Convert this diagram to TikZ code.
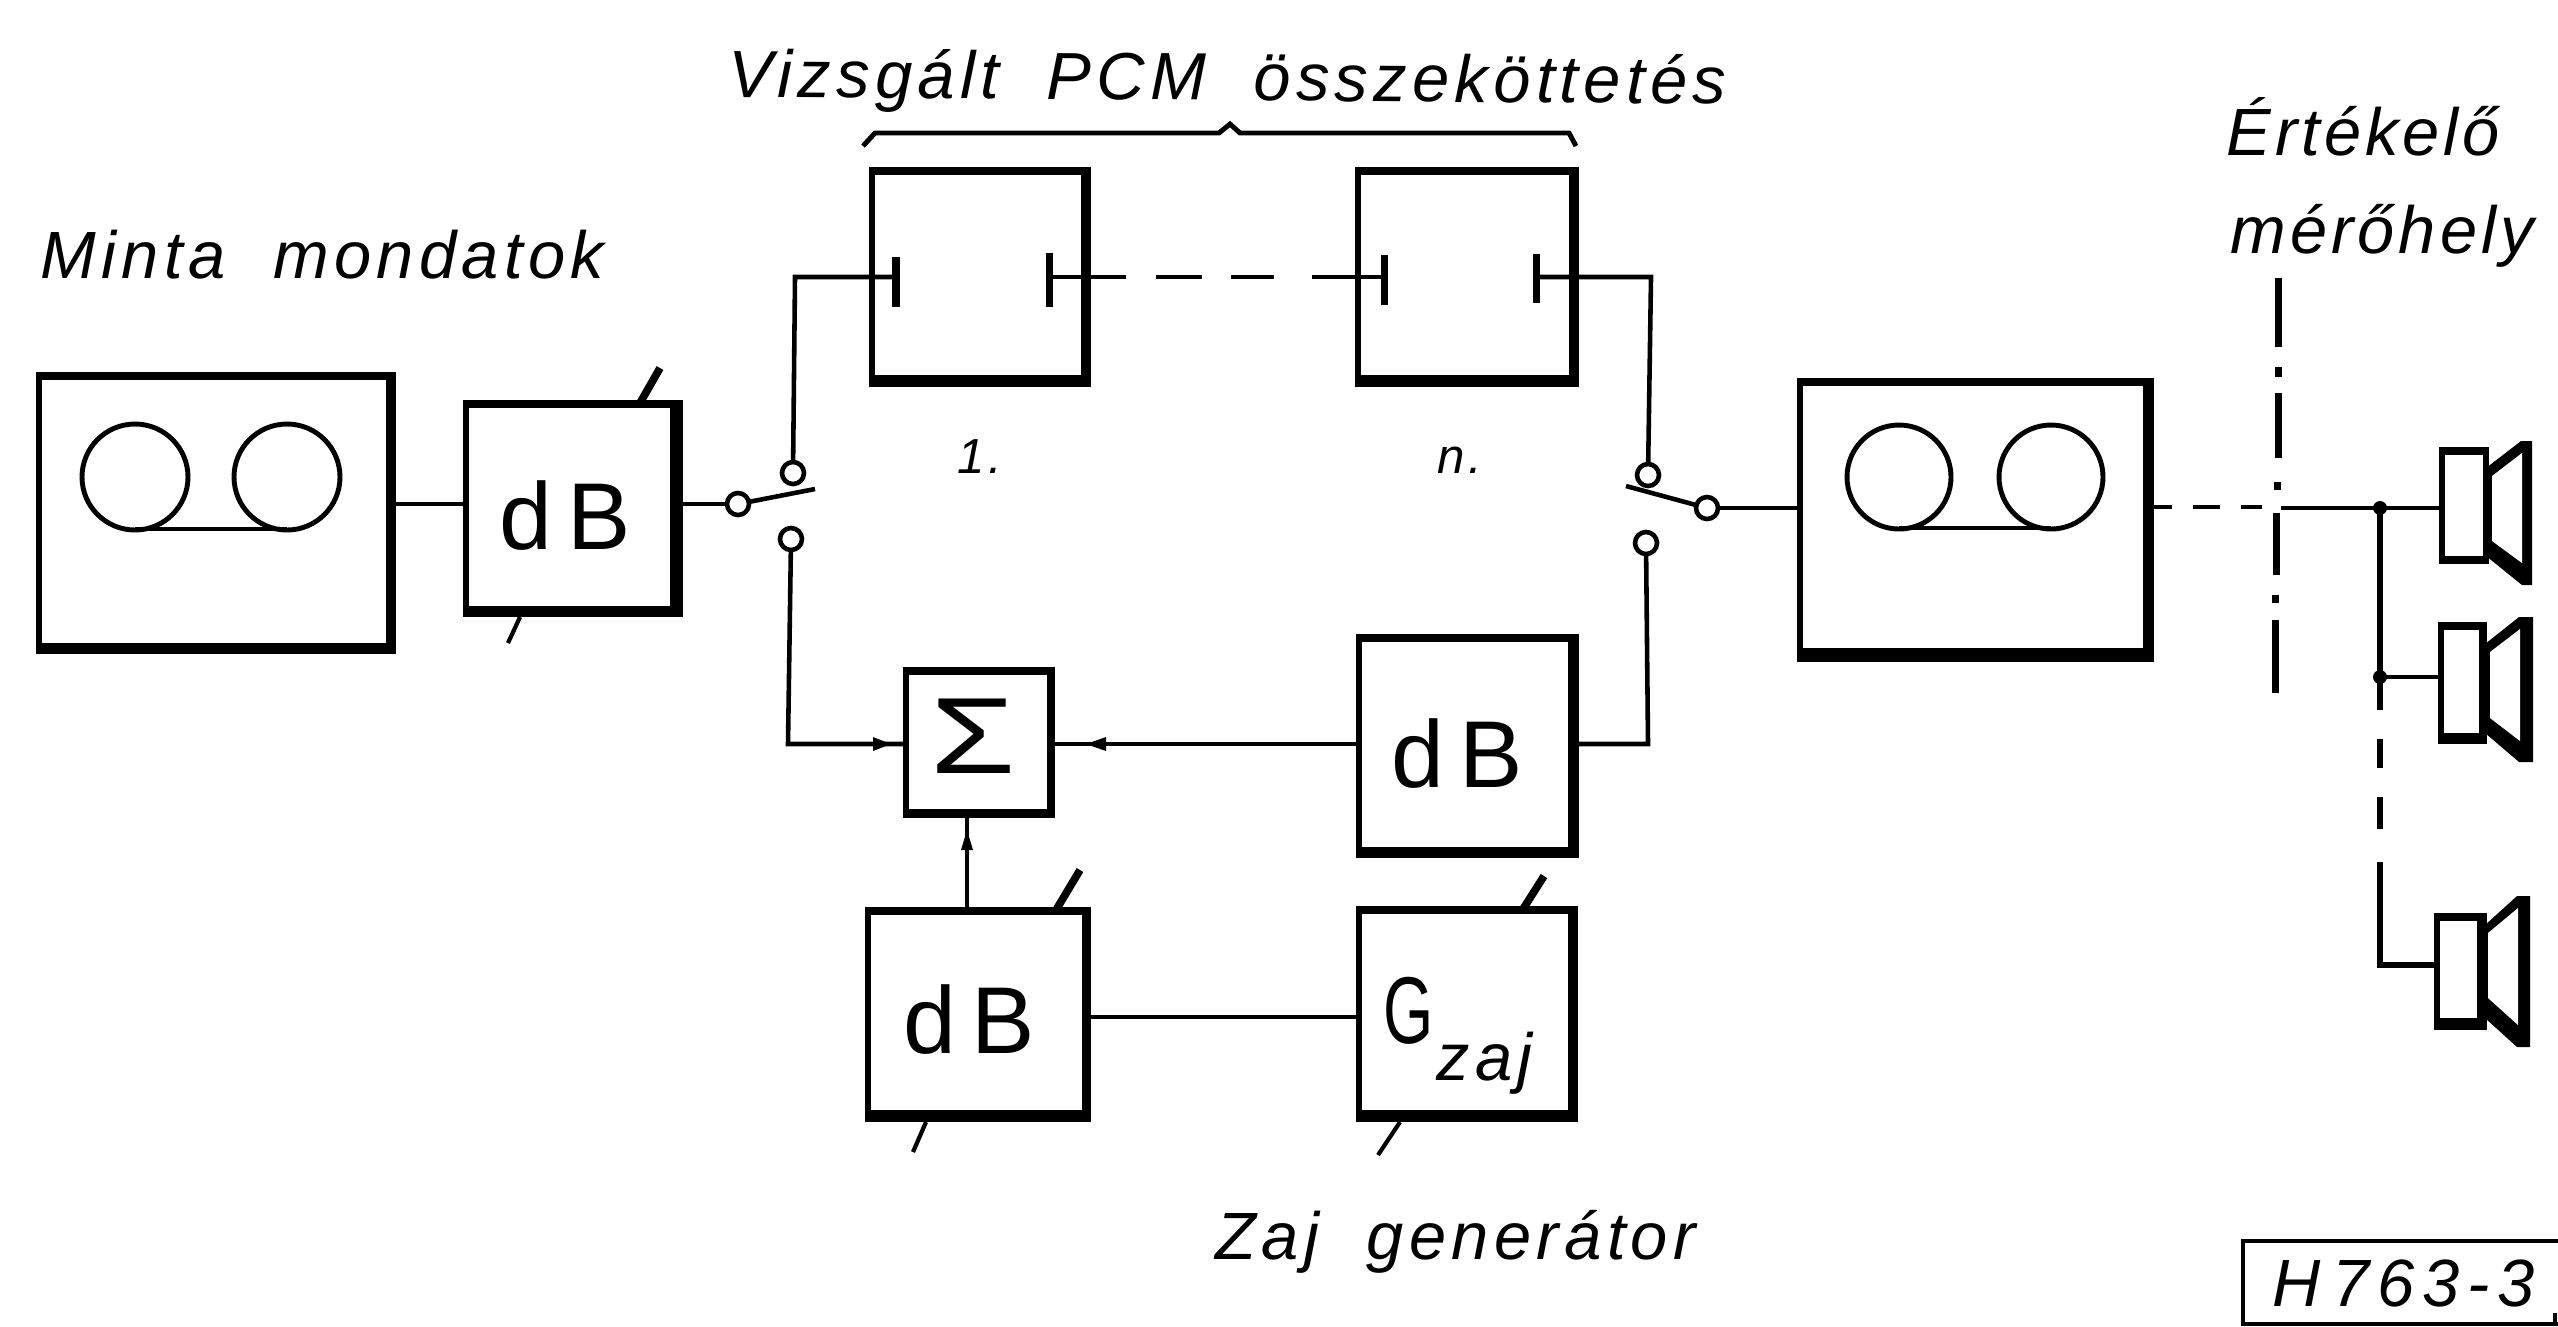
\documentclass[tikz,border=0pt]{standalone}
\usepackage{fontspec}
\setmainfont{Liberation Sans}
\newfontfamily\lab[ItalicFont={Liberation Sans Italic},LetterSpace=8]{Liberation Sans}
\newfontfamily\labb[ItalicFont={Liberation Sans Italic},LetterSpace=6]{Liberation Sans}
\newfontfamily\labc[ItalicFont={Liberation Sans Italic},LetterSpace=12]{Liberation Sans}
\usetikzlibrary{calc}
\newcommand{\shadowbox}[6]{% name, left, top, innerright, innerbottom, (outer r/b)
  \fill[black] (#2-3,-#3+3) rectangle (#6);
  \fill[white] (#2+3,-#3-5) rectangle (#4,-#5);
  \coordinate (#1) at (#2,-#3);
}
\tikzset{
  wire/.style={line width=1.3pt,line cap=butt},
  tick/.style={line width=1.2pt},
  tickup/.style={line width=2.2pt},
  contact/.style={circle,draw,line width=1.3pt,fill=white,inner sep=0pt,minimum size=22*0.01cm},
  reel/.style={line width=1.4pt},
  blockname/.style={inner sep=0pt,font=\fontsize{27}{27}\selectfont},
  italiclabel/.style={inner sep=0pt,anchor=base west,font=\lab\itshape\fontsize{19}{19}\selectfont},
  junction/.style={circle,fill=black,inner sep=0pt,minimum size=14*0.01cm},
}
\begin{document}
\begin{tikzpicture}[x=0.01cm,y=0.01cm]
\useasboundingbox (0,0) rectangle (2558,-1326);
\fill[white] (0,0) rectangle (2558,-1326);
% boxes
\shadowbox{tapeA}{39}{375}{386}{643}{396,-654}
\shadowbox{dbA}{466}{403}{670}{606}{683,-617}
\shadowbox{unitA}{872}{170}{1081}{375}{1091,-387}
\shadowbox{unitN}{1358}{170}{1569}{375}{1579,-387}
\shadowbox{tapeB}{1800}{381}{2143}{648}{2154,-662}
\shadowbox{sumbox}{906}{670}{1047}{809}{1055,-818}
\shadowbox{dbB}{1359}{637}{1568}{847}{1579,-858}
\shadowbox{dbC}{868}{910}{1082}{1110}{1091,-1122}
\shadowbox{gen}{1359}{909}{1568}{1110}{1578,-1122}
% coordinates
\coordinate (swAp) at (738,-504);
\coordinate (swAt) at (793,-473);
\coordinate (swAb) at (791,-539);
\coordinate (swAe) at (815,-489);
\coordinate (swBp) at (1707,-508);
\coordinate (swBt) at (1648,-475);
\coordinate (swBb) at (1646,-543);
\coordinate (swBe) at (1626,-486);
% tape reels
\draw[reel] (135,-477) circle (53);
\draw[reel] (287,-477) circle (53);
\draw[reel] (135,-529) -- (287,-529);
\draw[reel] (1899,-477) circle (52);
\draw[reel] (2051,-477) circle (52);
\draw[reel] (1899,-528) -- (2051,-528);
% left path
\draw[wire] (396,-504) -- (466,-504);
\draw[wire] (683,-504) -- (swAp);
\draw[wire] (swAp) -- (swAe);
\draw[wire] (swAt) -- (795,-277) -- (896,-277);
\draw[wire] (swAb) -- (788,-744) -- (906,-744);
\draw[line width=2pt] (896,-257) -- (896,-307);
\draw[line width=2pt] (1049,-253) -- (1049,-307);
\draw[wire] (1049,-277) -- (1126,-277);
\draw[wire] (1156,-277) -- (1202,-277);
\draw[wire] (1231,-277) -- (1274,-277);
\draw[wire] (1312,-277) -- (1384,-277);
\draw[line width=2pt] (1384,-255) -- (1384,-305);
\draw[line width=2pt] (1536,-254) -- (1536,-303);
\draw[wire] (1536,-277) -- (1651,-277) -- (swBt);
\draw[wire] (swBp) -- (swBe);
\draw[wire] (swBp) -- (1800,-508);
\draw[wire] (swBb) -- (1648,-744) -- (1579,-744);
\draw[wire] (1055,-744) -- (1359,-744);
\draw[wire] (967,-910) -- (967,-818);
\draw[wire] (1091,-1017) -- (1359,-1017);
% small arrowheads
\fill (873,-737) -- (891,-744) -- (873,-751) -- cycle;
\fill (1106,-737) -- (1086,-744) -- (1106,-751) -- cycle;
\fill (961,-850) -- (967,-830) -- (973,-850) -- cycle;
% contacts
\node[contact] (cAp) at (swAp) {};
\node[contact] (cAt) at (swAt) {};
\node[contact] (cAb) at (swAb) {};
\node[contact] (cBp) at (swBp) {};
\node[contact] (cBt) at (swBt) {};
\node[contact] (cBb) at (swBb) {};
% ticks
\draw[tickup] (640,-403) -- (660,-368);
\draw[tick] (520,-617) -- (508,-643);
\draw[tickup] (1056,-910) -- (1080,-870);
\draw[tick] (926,-1122) -- (913,-1152);
\draw[tickup] (1523,-909) -- (1544,-876);
\draw[tick] (1400,-1122) -- (1378,-1155);
% brace
\draw[line width=1.4pt] (863,-146) -- (875,-133) -- (1219,-133) -- (1230,-124) -- (1240,-133) -- (1569,-133) -- (1576,-146);
% output dashes
\draw[line width=1.3pt] (2154,-507) -- (2172,-507);
\draw[line width=1.3pt] (2193,-507) -- (2220,-507);
\draw[line width=1.3pt] (2241,-507) -- (2262,-507);
\draw[line width=1.3pt] (2281,-508) -- (2442,-508);
% dash-dot line
\foreach \a/\b/\c in {278/347/2278,367/377/2278,393/458/2278,482/490/2277,513/575/2276,595/603/2275,620/693/2275}
  \draw[line width=2pt] (\c,-\a) -- (\c,-\b);
% speaker bus
\draw[line width=1.8pt] (2380,-508) -- (2380,-710);
\draw[line width=1.8pt] (2380,-739) -- (2380,-768);
\draw[line width=1.8pt] (2380,-797) -- (2380,-829);
\draw[line width=1.8pt] (2380,-862) -- (2380,-965) -- (2437,-965);
\draw[wire] (2380,-677) -- (2441,-677);
\node[junction] (jA) at (2380,-508) {};
\node[junction] (jB) at (2380,-677) {};
% speakers
\shadowbox{spkA}{2442}{450}{2483}{556}{2489,-564}
\fill[black] (2486,-468) -- (2521,-441) -- (2532,-441) -- (2532,-585) -- (2522,-585) -- (2486,-556) -- cycle;
\fill[white] (2492,-476) -- (2522,-453) -- (2522,-563) -- (2492,-541) -- cycle;
\shadowbox{spkB}{2441}{625}{2479}{733}{2487,-744}
\fill[black] (2485,-644) -- (2519,-617) -- (2533,-617) -- (2533,-762) -- (2519,-762) -- (2485,-733) -- cycle;
\fill[white] (2490,-652) -- (2520,-629) -- (2520,-741) -- (2490,-718) -- cycle;
\shadowbox{spkC}{2437}{916}{2477}{1018}{2487,-1030}
\fill[black] (2485,-925) -- (2517,-896) -- (2530,-896) -- (2530,-1047) -- (2517,-1047) -- (2485,-1018) -- cycle;
\fill[white] (2488,-933) -- (2518,-908) -- (2518,-1025) -- (2488,-998) -- cycle;
% labels
\node[blockname] (tA) at (565,-516) {d\,B};
\node[blockname] (tB) at (1457,-754) {d\,B};
\node[blockname] (tC) at (969,-1020) {d\,B};
\node[blockname] (tS) at (973,-736) {\scalebox{1.4}[1.1]{\fontsize{28}{28}\selectfont Σ}};
\node[blockname,anchor=base west] (tG) at (1383,-1043) {\scalebox{0.68}[1]{G}};
\node[italiclabel,font=\lab\itshape\fontsize{19}{19}\selectfont] (tZ) at (1436,-1080) {zaj};
\node[italiclabel,rotate=-0.4] (tV) at (728,-97) {Vizsgált\ \ PCM\ \ összeköttetés};
\node[italiclabel] (tM) at (40,-278) {Minta\ \ mondatok};
\node[italiclabel,font=\labb\itshape\fontsize{19}{19}\selectfont] (tE) at (2226,-155) {Értékelő};
\node[italiclabel,font=\labb\itshape\fontsize{19}{19}\selectfont] (tH) at (2230,-253) {mérőhely};
\node[italiclabel] (tR) at (1215,-1259) {Zaj\ \ generátor};
\node[italiclabel,font=\lab\itshape\fontsize{14}{14}\selectfont] (t1) at (957,-473) {1.};
\node[italiclabel,font=\lab\itshape\fontsize{14}{14}\selectfont] (tn) at (1437,-473) {n.};
% stamp
\draw[line width=1.2pt] (2558,-1241) -- (2243,-1241) -- (2243,-1324) -- (2558,-1324);
\draw[line width=1.2pt] (2555,-1313) -- (2555,-1324);
\node[italiclabel,font=\labc\itshape\fontsize{19}{19}\selectfont] (tH7) at (2272,-1306) {H\,763-3};
\end{tikzpicture}
\end{document}
